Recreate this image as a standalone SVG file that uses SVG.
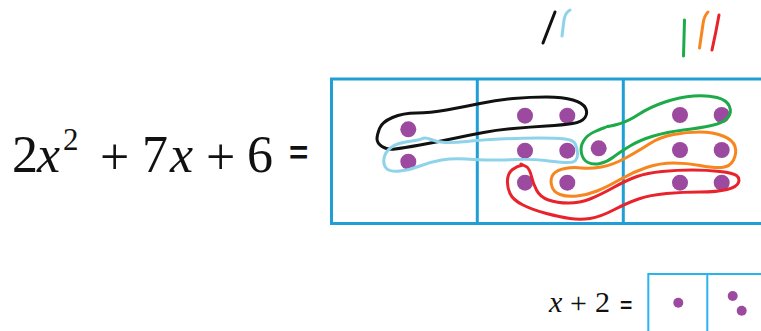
<svg xmlns="http://www.w3.org/2000/svg" width="761" height="331" viewBox="0 0 761 331">
<style>
.grid{fill:none;stroke:#1f9fd6;stroke-width:3}
.grid2{fill:none;stroke:#2ab4ee;stroke-width:2}
.dot{fill:#9c4aa0}
.loop{fill:none;stroke-width:3;stroke-linecap:round;stroke-linejoin:round}
</style>
<rect width="761" height="331" fill="#fff"/>
<g id="equation" font-family="'Liberation Serif', 'Times New Roman', serif" fill="#111">
<text x="12" y="172" font-size="52">2</text>
<text x="37" y="172" font-size="52" font-style="italic">x</text>
<text x="63" y="150" font-size="31">2</text>
<text x="100" y="174" font-size="52">+</text>
<text x="142" y="172" font-size="52">7</text>
<text x="170" y="172" font-size="52" font-style="italic">x</text>
<text x="206" y="174" font-size="52">+</text>
<text x="247" y="172" font-size="52">6</text>
<text x="289" y="164" font-size="33" font-family="'Liberation Sans', Arial, sans-serif" font-weight="bold">=</text>
</g>
<g id="grid-big">
<rect class="grid" x="331.5" y="79" width="460" height="144.5"/>
<line class="grid" x1="477.3" y1="79" x2="477.3" y2="223.5"/>
<line class="grid" x1="623.3" y1="79" x2="623.3" y2="223.5"/>
</g>
<g id="dots-big">
<circle class="dot" cx="408.3" cy="129.3" r="8"/>
<circle class="dot" cx="408.3" cy="161.7" r="8"/>
<circle class="dot" cx="525" cy="115.7" r="8"/>
<circle class="dot" cx="567.3" cy="115.7" r="8"/>
<circle class="dot" cx="525" cy="150.7" r="8"/>
<circle class="dot" cx="567.3" cy="150.7" r="8"/>
<circle class="dot" cx="525" cy="182.7" r="8"/>
<circle class="dot" cx="567.3" cy="182.7" r="8"/>
<circle class="dot" cx="598.7" cy="148.3" r="8"/>
<circle class="dot" cx="680" cy="115" r="8"/>
<circle class="dot" cx="721.7" cy="115" r="8"/>
<circle class="dot" cx="680" cy="150" r="8"/>
<circle class="dot" cx="721.7" cy="150" r="8"/>
<circle class="dot" cx="680" cy="182.7" r="8"/>
<circle class="dot" cx="721.7" cy="182.7" r="8"/>
</g>
<g id="loops">
<path id="loop-black" class="loop" stroke="#111" d="M 377,139 Q 377,135 379.5,128.5 Q 382,122 392.5,117.5 Q 403,113 416.5,113 Q 430,113 446.5,110 Q 463,107 480,103.5 Q 497,100 513.5,98.5 Q 530,97 546.5,97 Q 563,97 573,100 Q 583,103 585.5,108 Q 588,113 585,117.5 Q 582,122 572.5,123.5 Q 563,125 546.5,126 Q 530,127 513.5,128.5 Q 497,130 483.5,132.5 Q 470,135 453.5,138.5 Q 437,142 420,145 Q 403,148 395,149 Q 387,150 382,146.5 Q 377,143 377,139 Z"/>
<path id="loop-lightblue" class="loop" stroke="#8fd3ea" d="M 422.5,138.5 Q 425,137 431,139.5 Q 437,142 445,142.5 Q 453,143 466.5,141.5 Q 480,140 500,139 Q 520,138 538.5,138 Q 557,138 565,139 Q 573,140 575,143.5 Q 577,147 577.5,152.5 Q 578,158 575.5,160.5 Q 573,163 565,162.5 Q 557,162 545,160.5 Q 533,159 516.5,159.5 Q 500,160 490,160 Q 480,160 466.5,159 Q 453,158 441.5,160 Q 430,162 420,166 Q 410,170 400,171 Q 390,172 386.5,168.5 Q 383,165 384,158.5 Q 385,152 391,147.5 Q 397,143 408.5,141.5 Q 420,140 422.5,138.5"/>
<path id="loop-green" class="loop" stroke="#1faa4a" d="M 605,127.5 Q 603,128 595,131.5 Q 587,135 583.5,141 Q 580,147 581.5,153.5 Q 583,160 588,162.5 Q 593,165 600,163.5 Q 607,162 613.5,157 Q 620,152 630,146 Q 640,140 653.5,136 Q 667,132 683.5,130 Q 700,128 711.5,125.5 Q 723,123 727.5,118 Q 732,113 729.5,106.5 Q 727,100 717,97.5 Q 707,95 693.5,96 Q 680,97 665,102 Q 650,107 638.5,114.5 Q 627,122 617,124.5 Q 609,126.5 607,126.5"/>
<path id="loop-orange" class="loop" stroke="#f7861f" d="M 551.5,185 Q 550,178 553.5,174 Q 557,170 565,168.5 Q 573,167 581.5,168 Q 590,169 601.5,167 Q 613,165 626.5,157.5 Q 640,150 650,143.5 Q 660,137 673.5,134.5 Q 687,132 700,132 Q 713,132 723,136 Q 733,140 735,146.5 Q 737,153 733.5,160 Q 730,167 721.5,167.5 Q 713,168 700,165.5 Q 687,163 673.5,163 Q 660,163 646.5,167.5 Q 633,172 620,179.5 Q 607,187 597,191 Q 587,195 577,196 Q 567,197 560,194.5 Q 553,192 551.5,185 Z"/>
<path id="loop-red" class="loop" stroke="#e8232b" d="M 523,165 Q 517,166 512.5,169.5 Q 508,173 507.5,180 Q 507,187 510,193.5 Q 513,200 523,205 Q 533,210 546.5,213.5 Q 560,217 570,218.5 Q 580,220 590,218.5 Q 600,217 613.5,210 Q 627,203 638.5,199 Q 650,195 666.5,193.5 Q 683,192 700,192 Q 717,192 727,189.5 Q 737,187 738.5,182.5 Q 740,178 736.5,175.5 Q 733,173 720,171.5 Q 707,170 692,170 Q 677,170 662,171.5 Q 647,173 637,176.5 Q 627,180 613.5,187.5 Q 600,195 590,199 Q 580,203 568.5,203 Q 557,203 548.5,200 Q 540,197 536.5,190 Q 533,183 531.5,176.5 Q 530,170 527,167 L 521,164"/>
</g>
<g id="tallies">
<path class="loop" stroke="#111" d="M 555,12 L 543,43"/>
<path class="loop" stroke="#8fd3ea" d="M 570,10 Q 565,13 564,20 L 562,36"/>
<path class="loop" stroke="#1faa4a" d="M 684.5,20 L 683.5,56"/>
<path class="loop" stroke="#f7861f" d="M 708,12 Q 704,16 703,24 L 699.5,48"/>
<path class="loop" stroke="#e8232b" d="M 719,15 Q 716,32 712,50"/>
</g>
<g id="small-equation" font-family="'Liberation Serif', 'Times New Roman', serif" fill="#111">
<text x="549" y="312" font-size="30" font-style="italic">x</text>
<text x="570" y="313" font-size="30">+</text>
<text x="595" y="312" font-size="30">2</text>
<text x="620" y="312" font-size="21" font-family="'Liberation Sans', Arial, sans-serif" font-weight="bold">=</text>
</g>
<g id="grid-small">
<rect class="grid2" x="648.3" y="274" width="140" height="80"/>
<line class="grid2" x1="707.3" y1="274" x2="707.3" y2="331"/>
</g>
<g id="dots-small">
<circle class="dot" cx="678.3" cy="302.7" r="5"/>
<circle class="dot" cx="732.7" cy="296" r="5"/>
<circle class="dot" cx="741.7" cy="310.7" r="5"/>
</g>
</svg>
